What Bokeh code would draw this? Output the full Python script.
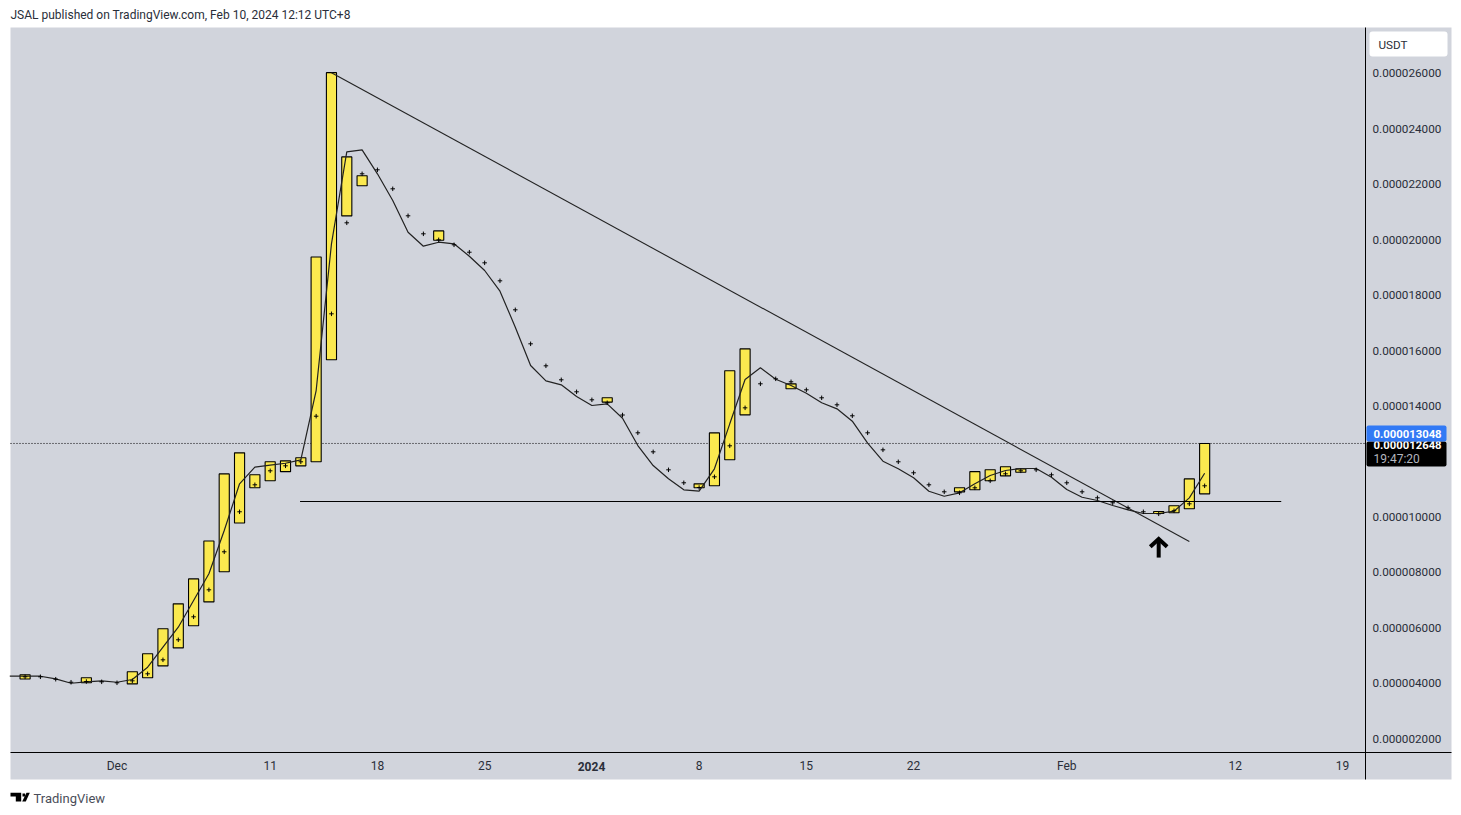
from bokeh.plotting import figure
from bokeh.embed import file_html
from bokeh.resources import INLINE
from bokeh.models import (BoxAnnotation, FixedTicker, Label, LinearAxis, PolyAnnotation, Range1d)

# Prices are in millionths of USDT; x is days since 1 Dec 2023.
candle_days = [-6, -2, 1, 2, 3, 4, 5, 6, 7, 8, 9, 10, 11, 12, 13, 14, 15, 16, 21, 32,
               38, 39, 40, 41, 44, 55, 56, 57, 58, 59, 68, 69, 70, 71]
candle_top = [4.30, 4.19, 4.41, 5.06, 5.96, 6.86, 7.76, 9.13, 11.55, 12.31, 11.52, 11.99,
              12.02, 12.13, 19.38, 26.03, 22.99, 22.31, 20.32, 14.30, 11.19, 13.03, 15.27,
              16.06, 14.80, 11.05, 11.63, 11.70, 11.81, 11.73, 10.19, 10.40, 11.37, 12.648]
candle_bottom = [4.15, 4.01, 3.97, 4.19, 4.62, 5.27, 6.07, 6.93, 8.02, 9.78, 11.05, 11.30,
                 11.63, 11.84, 11.99, 15.67, 20.86, 21.95, 19.98, 14.14, 11.05, 11.12, 12.06,
                 13.68, 14.62, 10.90, 10.98, 11.30, 11.48, 11.61, 10.12, 10.15, 10.29, 10.83]

line_days = list(range(-7, 72))
line_values = [4.248, 4.248, 4.248, 4.154, 3.995, 4.046, 4.082, 4.031, 4.129, 4.573, 5.295,
               6.017, 6.980, 7.944, 9.507, 11.192, 11.791, 11.863, 11.935, 12.058, 14.559,
               19.853, 23.174, 23.246, 22.380, 21.416, 20.272, 19.767, 19.911, 19.853, 19.406,
               18.890, 18.143, 16.843, 15.461, 14.909, 14.764, 14.342, 14.018, 14.079, 13.559,
               12.574, 11.852, 11.372, 10.975, 10.925, 11.733, 13.357, 14.956, 15.378, 14.967,
               14.739, 14.462, 14.115, 13.898, 13.451, 12.657, 12.007, 11.733, 11.408, 10.925,
               10.744, 10.867, 11.192, 11.491, 11.672, 11.744, 11.744, 11.430, 10.986, 10.708,
               10.589, 10.408, 10.253, 10.120, 10.120, 10.203, 10.686, 11.574]

dot_days = list(range(-6, 72))
dot_values = [4.227, 4.227, 4.140, 4.031, 4.056, 4.046, 4.010, 4.082, 4.335, 4.840, 5.562,
              6.392, 7.366, 8.738, 10.182, 11.156, 11.661, 11.841, 11.986, 13.632, 17.327,
              20.611, 22.380, 22.524, 21.838, 20.864, 20.214, 19.997, 19.817, 19.550, 19.167,
              18.518, 17.471, 16.244, 15.450, 14.945, 14.512, 14.223, 14.115, 13.675, 13.032,
              12.346, 11.697, 11.228, 11.058, 11.444, 12.563, 13.934, 14.801, 14.981, 14.873,
              14.584, 14.296, 14.043, 13.646, 13.032, 12.418, 11.986, 11.589, 11.156, 10.903,
              10.867, 11.048, 11.300, 11.553, 11.661, 11.697, 11.517, 11.228, 10.903, 10.687,
              10.506, 10.326, 10.182, 10.109, 10.218, 10.470, 11.120]

trend_days = [14, 70]
trend_values = [26.03, 9.11]
support_days = [11.95, 76.0]
support_values = [10.553, 10.553]
arrow_shaft_days = [68, 68]
arrow_shaft_values = [8.53, 9.15]
arrow_head_days = [67.45, 68, 68.55]
arrow_head_values = [8.92, 9.20, 8.92]
last_price = 12.648

y_ticks = [2, 4, 6, 8, 10, 12, 14, 16, 18, 20, 22, 24, 26]
y_labels = ["0.000002000", "0.000004000", "0.000006000", "0.000008000", "0.000010000",
            "0.000012000", "0.000014000", "0.000016000", "0.000018000", "0.000020000",
            "0.000022000", "0.000024000", "0.000026000"]
x_ticks = [0, 10, 17, 24, 31, 38, 45, 52, 62, 73, 80]
x_labels = ["Dec", "11", "18", "25", "", "8", "15", "22", "Feb", "12", "19"]

PANEL = "#d1d4dc"
INK = "#2a2e39"
FONT = "Roboto"
W, H = 1455, 807
D0, D1, V0, V1 = -6.952, 81.50, 1.495, 27.66
L, R, T, B = 10, 1365, 27, 752


def xd(px):
    return D0 + (px - L) * (D1 - D0) / (R - L)


def yd(py):
    return V1 - (py - T) * (V1 - V0) / (B - T)


p = figure(width=W, height=H, output_backend="svg", toolbar_location=None,
           x_range=Range1d(xd(0), xd(W)), y_range=Range1d(yd(H), yd(0)),
           min_border=0, x_axis_type=None, y_axis_type=None,
           background_fill_color="white", border_fill_color="white", outline_line_color=None)
p.grid.visible = False


def box(left, right, top, bottom, color, radius=0, level="annotation"):
    p.add_layout(BoxAnnotation(left=xd(left), right=xd(right), top=yd(top), bottom=yd(bottom),
                               fill_color=color, fill_alpha=1, line_color=None,
                               border_radius=radius, level=level))


box(10, 1451, 27, 779, PANEL, level="underlay")

xax = LinearAxis(ticker=FixedTicker(ticks=x_ticks), major_label_overrides=dict(zip(x_ticks, x_labels)),
                 major_tick_line_color=None, minor_tick_line_color=None, axis_line_color="black",
                 major_label_text_color=INK, major_label_text_font=FONT,
                 major_label_text_font_size="12px", major_label_standoff=0,
                 fixed_location=yd(752), bounds=(xd(10), xd(1451)))
p.add_layout(xax, "below")
yax = LinearAxis(ticker=FixedTicker(ticks=y_ticks), major_label_overrides=dict(zip(y_ticks, y_labels)),
                 major_tick_line_color=None, minor_tick_line_color=None, axis_line_color="black",
                 major_label_text_color=INK, major_label_text_font=FONT,
                 major_label_text_font_size="11.7px", major_label_standoff=1,
                 fixed_location=xd(1365), bounds=(yd(779), yd(27)))
p.add_layout(yax, "right")

p.line([xd(10), xd(1365)], [last_price, last_price], line_color="black", line_width=1, line_dash="1 2")
p.quad(left=[d - 0.33 for d in candle_days], right=[d + 0.33 for d in candle_days],
       top=candle_top, bottom=candle_bottom, fill_color="#fbe94f", line_color="black", line_width=1.1)
p.line(line_days, line_values, line_color="#222222", line_width=1.2)
p.line(trend_days, trend_values, line_color="#222222", line_width=1.1)
p.line(support_days, support_values, line_color="black", line_width=1)
p.scatter(dot_days, dot_values, marker="cross", size=4.5, line_color="black", line_width=1)
p.line(arrow_shaft_days, arrow_shaft_values, line_color="black", line_width=4)
p.line(arrow_head_days, arrow_head_values, line_color="black", line_width=4, line_join="miter")


def text(x, y, s, color=INK, size="12px", style="normal", align="left"):
    p.add_layout(Label(x=xd(x), y=yd(y), text=s,
                       text_color=color, text_font=FONT, text_font_size=size,
                       text_font_style=style, text_align=align, text_baseline="middle"))


text(591, 765.5, "2024", style="bold", align="center")
box(1369, 1447, 31, 56, "white", 3)
text(1378, 44, "USDT", size="11.7px")
box(1366, 1446, 441, 466, "black", 2)
text(1373, 444, "0.000012648", color="white", size="11.3px", style="bold")
text(1373, 458, "19:47:20", color="#b2b5be", size="12px")
box(1366, 1446, 425, 441, "#3179f5", 2)
text(1373, 433, "0.000013048", color="white", size="11.3px", style="bold")

text(10, 14, "JSAL published on TradingView.com, Feb 10, 2024 12:12 UTC+8", size="12px")
text(33, 797.5, "TradingView", color="#4a4e59", size="13px")

for xs, ys in (([10, 20.7, 20.7, 15.3, 15.3, 10], [792.3, 792.3, 801, 801, 796, 796]),
               ([26, 29.3, 25.3, 21.7], [792.3, 792.3, 801, 801])):
    p.add_layout(PolyAnnotation(xs=[xd(v) for v in xs], ys=[yd(v) for v in ys],
                                fill_color="black", fill_alpha=1, line_color=None))
box(22, 24.6, 793, 796, "black")

open("out.html", "w").write(file_html(p, INLINE))
